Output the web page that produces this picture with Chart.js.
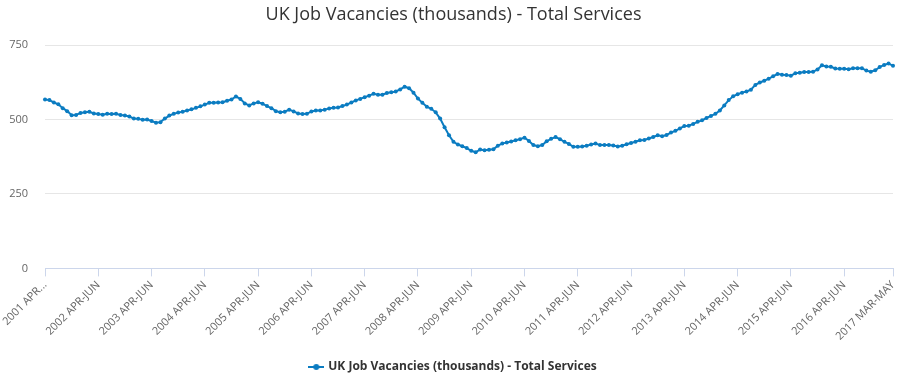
<!DOCTYPE html>
<html>
<head>
<meta charset="utf-8">
<script src="https://cdn.jsdelivr.net/npm/chart.js@4/dist/chart.umd.min.js"></script>
<style>
  html, body { margin: 0; padding: 0; background: #fff; }
  #wrap { width: 907px; height: 383px; }
</style>
</head>
<body>
<div id="wrap"><canvas id="mainChart" width="907" height="383"></canvas></div>
<script>
const chartTitle = 'UK Job Vacancies (thousands) - Total Services';
const seriesLabel = 'UK Job Vacancies (thousands) - Total Services';
const monthNames = ['JAN', 'FEB', 'MAR', 'APR', 'MAY', 'JUN', 'JUL', 'AUG', 'SEP', 'OCT', 'NOV', 'DEC'];
const firstYear = 2001;
const firstMonth = 3; // April
const yTicks = [0, 250, 500, 750];

// rolling three-month values, 2001 APR-JUN .. 2017 MAR-MAY
const vacancies = [
    567, 565, 557, 551, 538, 528, 514, 515, 522, 524, 526, 520,
    518, 516, 519, 518, 519, 515, 513, 510, 503, 502, 499, 500,
    495, 489, 491, 503, 513, 519, 523, 526, 530, 534, 539, 544,
    550, 556, 556, 557, 558, 563, 567, 577, 569, 554, 547, 554,
    558, 553, 545, 538, 528, 524, 526, 533, 527, 520, 518, 519,
    527, 530, 530, 533, 537, 539, 540, 545, 550, 557, 564, 569,
    575, 580, 586, 583, 583, 589, 591, 594, 601, 610, 605, 590,
    570, 556, 543, 536, 524, 503, 474, 447, 425, 416, 410, 404,
    395, 390, 399, 397, 398, 400, 412, 419, 423, 426, 430, 434,
    439, 428, 414, 410, 414, 427, 435, 441, 434, 425, 418, 408,
    408, 409, 412, 416, 419, 414, 414, 414, 413, 409, 412, 417,
    421, 425, 430, 431, 436, 441, 447, 444, 448, 456, 462, 470,
    478, 479, 485, 492, 497, 505, 512, 519, 530, 547, 565, 578,
    585, 590, 594, 600, 616, 624, 630, 637, 645, 653, 650, 649,
    647, 655, 657, 659, 659, 660, 668, 682, 678, 677, 671, 670,
    670, 669, 672, 672, 672, 664, 660, 665, 676, 683, 688, 680
];

const labels = vacancies.map((v, i) => {
    const m = (firstMonth + i) % 12;
    const y = firstYear + Math.floor((firstMonth + i) / 12);
    return y + ' ' + monthNames[m] + '-' + monthNames[(m + 2) % 12];
});

const lineColor = '#0b7cc1';
const lastIndex = labels.length - 1;

function legendSymbol() {
    const c = document.createElement('canvas');
    c.width = 16;
    c.height = 10;
    const g = c.getContext('2d');
    g.strokeStyle = lineColor;
    g.lineWidth = 2;
    g.beginPath();
    g.moveTo(0, 5);
    g.lineTo(16, 5);
    g.stroke();
    g.fillStyle = lineColor;
    g.beginPath();
    g.arc(8, 5, 3, 0, Math.PI * 2);
    g.fill();
    return c;
}

function setupCanvas() {
    const ctx = document.getElementById('mainChart').getContext('2d');
    const data = {
        labels: labels,
        datasets: [{
            label: seriesLabel,
            data: vacancies,
            borderColor: lineColor,
            backgroundColor: lineColor,
            borderWidth: 2,
            pointRadius: 2,
            pointBorderWidth: 0,
            pointBackgroundColor: lineColor,
            pointStyle: 'circle',
            tension: 0,
            fill: false
        }]
    };
    const config = {
        type: 'line',
        data: data,
        options: {
            responsive: false,
            animation: false,
            layout: { padding: 0 },
            scales: {
                x: {
                    offset: false,
                    afterBuildTicks: (scale) => {
                        scale.ticks = scale.ticks.filter(t => t.value % 12 === 0 || t.value === lastIndex);
                    },
                    afterFit: (scale) => { scale.height = 82.6; },
                    grid: {
                        display: true,
                        drawOnChartArea: false,
                        drawTicks: true,
                        tickLength: 8,
                        color: '#ccd6eb'
                    },
                    border: { display: true, color: '#ccd6eb', width: 1 },
                    ticks: {
                        autoSkip: false,
                        minRotation: 45,
                        maxRotation: 45,
                        padding: 2,
                        color: '#666666',
                        font: { family: 'Open Sans', size: 11 },
                        callback: function (value, index) {
                            const text = this.getLabelForValue(value);
                            return value === 0 ? text.slice(0, 8) + '...' : text;
                        }
                    }
                },
                y: {
                    min: 0,
                    max: 750,
                    afterBuildTicks: (scale) => {
                        scale.ticks = yTicks.map(v => ({ value: v }));
                    },
                    afterFit: (scale) => { scale.width = 45; },
                    grid: { color: '#e6e6e6', drawTicks: false },
                    border: { display: false },
                    ticks: {
                        padding: 17,
                        color: '#666666',
                        font: { family: 'Open Sans', size: 11 }
                    }
                },
                // empty right-hand axis, only reserves the right margin
                yRight: {
                    position: 'right',
                    min: 0,
                    max: 750,
                    afterFit: (scale) => { scale.width = 14; },
                    grid: { display: false },
                    border: { display: false },
                    ticks: { display: false }
                }
            },
            plugins: {
                title: {
                    display: true,
                    text: chartTitle,
                    color: '#333333',
                    font: { family: 'Open Sans', size: 18, weight: 'normal' },
                    padding: { top: 4, bottom: 19.4 }
                },
                legend: {
                    position: 'bottom',
                    labels: {
                        usePointStyle: true,
                        pointStyle: legendSymbol(),
                        color: '#333333',
                        padding: 10,
                        font: { family: 'Open Sans', size: 12, weight: 'bold' }
                    }
                },
                tooltip: { enabled: false }
            }
        }
    };
    return new Chart(ctx, config);
}

const mainChart = setupCanvas();
</script>
</body>
</html>
